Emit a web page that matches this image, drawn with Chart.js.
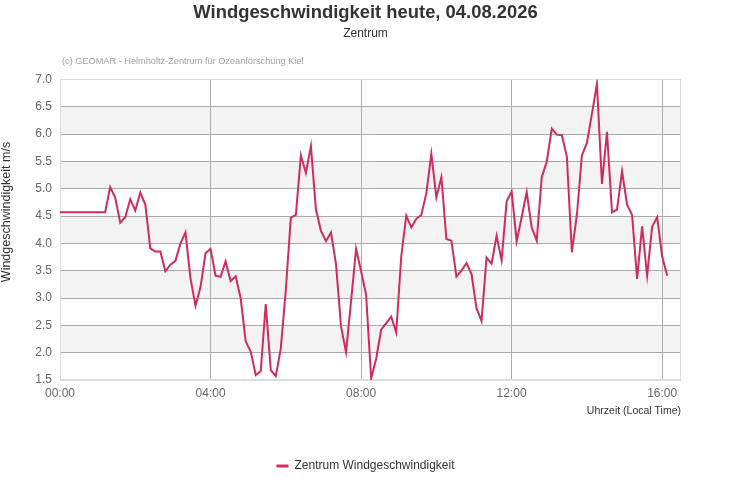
<!DOCTYPE html>
<html>
<head>
<meta charset="utf-8">
<script src="https://cdn.jsdelivr.net/npm/chart.js@4"></script>
<style>
  html, body { margin: 0; padding: 0; background: #fff; }
  #wrap { width: 731px; height: 500px; }
</style>
</head>
<body>
<div id="wrap"><canvas id="chartWind"></canvas></div>
<script>
/* ── Data ── */

const TITLE = 'Windgeschwindigkeit heute, 04.08.2026';
const SUBTITLE = 'Zentrum';
const CREDIT = '(c) GEOMAR - Helmholtz-Zentrum für Ozeanforschung Kiel';
const SERIES_NAME = 'Zentrum Windgeschwindigkeit';
const Y_TITLE = 'Windgeschwindigkeit m/s';
const X_TITLE = 'Uhrzeit (Local Time)';

// one reading every 8 minutes, starting at 00:00
const STEP_MIN = 8;
const WIND = [
  4.57, 4.57, 4.57, 4.57, 4.57, 4.57, 4.57, 4.57, 4.57, 4.57,
  5.03, 4.84, 4.38, 4.48, 4.81, 4.60, 4.93, 4.71, 3.91, 3.85,
  3.85, 3.49, 3.61, 3.68, 4.00, 4.20, 3.36, 2.86, 3.20, 3.82,
  3.90, 3.41, 3.39, 3.67, 3.31, 3.40, 3.00, 2.21, 2.02, 1.59,
  1.66, 2.89, 1.68, 1.57, 2.08, 3.15, 4.47, 4.52, 5.61, 5.29,
  5.78, 4.62, 4.23, 4.04, 4.20, 3.62, 2.48, 2.01, 2.94, 3.90,
  3.49, 3.06, 1.53, 1.89, 2.42, 2.54, 2.66, 2.37, 3.76, 4.51,
  4.29, 4.45, 4.52, 4.92, 5.64, 4.84, 5.21, 4.08, 4.05, 3.39,
  3.50, 3.64, 3.44, 2.81, 2.58, 3.74, 3.63, 4.14, 3.69, 4.77,
  4.95, 4.04, 4.48, 4.94, 4.29, 4.05, 5.21, 5.50, 6.10, 5.99,
  5.98, 5.59, 3.84, 4.52, 5.61, 5.84, 6.37, 6.92, 5.09, 6.04,
  4.57, 4.62, 5.32, 4.71, 4.52, 3.35, 4.31, 3.41, 4.31, 4.48,
  3.76, 3.41
];

const Y_MIN = 1.5, Y_MAX = 7.0, Y_STEP = 0.5;
const X_MIN = 0, X_MAX = 990;                 // minutes
const X_TICKS = [0, 240, 480, 720, 960];      // 00:00 .. 16:00

const LINE_COLOR = '#d02b5b';
const GRID_COLOR = '#aaaaaa';
const EDGE_COLOR = '#dcdcdc';
const BAND_COLOR = '#f3f3f3';
const FONT = '"Liberation Sans", Arial, sans-serif';

/* ── Helpers ── */

const pad2 = n => String(n).padStart(2, '0');
const fmtTime = m => pad2(Math.floor(m / 60)) + ':' + pad2(m % 60);

const plotDecor = {
  id: 'plotDecor',
  beforeDraw(chart) {
    const { ctx, chartArea: a, scales: { y } } = chart;
    ctx.save();
    ctx.fillStyle = BAND_COLOR;
    // alternating bands: every second interval starting below the top
    for (let v = Y_MAX - Y_STEP; v > Y_MIN; v -= 2 * Y_STEP) {
      const top = y.getPixelForValue(v);
      const bot = y.getPixelForValue(v - Y_STEP);
      ctx.fillRect(a.left, top, a.right - a.left, bot - top);
    }
    ctx.restore();
  },
  beforeDatasetsDraw(chart) {
    const { ctx, chartArea: a } = chart;
    ctx.save();
    ctx.strokeStyle = EDGE_COLOR;
    ctx.lineWidth = 1;
    ctx.strokeRect(Math.round(a.left) + 0.5, Math.round(a.top) + 0.5,
      Math.round(a.right - a.left) - 1, Math.round(a.bottom - a.top) - 1);
    ctx.restore();
  },
  afterDraw(chart) {
    const { ctx } = chart;
    ctx.save();
    ctx.font = '9.2px ' + FONT;
    ctx.fillStyle = '#a0a0a0';
    ctx.textBaseline = 'middle';
    ctx.fillText(CREDIT, 62, 61);

    // y axis title
    ctx.translate(7, 212);
    ctx.rotate(-Math.PI / 2);
    ctx.font = '12.5px ' + FONT;
    ctx.fillStyle = '#333333';
    ctx.textAlign = 'center';
    ctx.fillText(Y_TITLE, 0, 0);
    ctx.restore();
  }
};

Chart.defaults.font.family = FONT;
Chart.defaults.animation = false;

new Chart(document.getElementById('chartWind'), {
  type: 'line',
  data: {
    datasets: [{
      label: SERIES_NAME,
      data: WIND.map((v, i) => ({ x: i * STEP_MIN, y: v })),
      borderColor: LINE_COLOR,
      backgroundColor: LINE_COLOR,
      borderWidth: 2,
      pointRadius: 0,
      tension: 0,
      fill: false
    }]
  },
  options: {
    responsive: true,
    maintainAspectRatio: false,
    layout: { padding: { left: 0, right: 0, top: 0, bottom: 18 } },
    plugins: {
      title: {
        display: true,
        text: TITLE,
        color: '#333333',
        font: { size: 18.4, weight: 'bold' },
        padding: { top: 2, bottom: 0 }
      },
      subtitle: {
        display: true,
        text: SUBTITLE,
        color: '#333333',
        font: { size: 12 },
        padding: { top: 2, bottom: 39 }
      },
      legend: {
        display: true,
        position: 'bottom',
        labels: {
          color: '#333333',
          font: { size: 12 },
          boxWidth: 12,
          boxHeight: 3,
          padding: 10,
          generateLabels: chart =>
            Chart.defaults.plugins.legend.labels.generateLabels(chart)
              .map(l => ({ ...l, lineWidth: 0 }))
        }
      },
      tooltip: { enabled: false }
    },
    scales: {
      x: {
        type: 'linear',
        min: X_MIN,
        max: X_MAX,
        afterFit: s => { s.height = 70; },
        afterBuildTicks: s => { s.ticks = X_TICKS.map(v => ({ value: v })); },
        ticks: {
          autoSkip: false,
          color: '#666666',
          font: { size: 12 },
          padding: 6,
          maxRotation: 0,
          callback: v => fmtTime(v)
        },
        grid: {
          drawTicks: false,
          color: ctx => ctx.tick && ctx.tick.value === X_MIN ? EDGE_COLOR : GRID_COLOR
        },
        border: { display: false },
        title: {
          display: true,
          text: X_TITLE,
          align: 'end',
          color: '#333333',
          font: { size: 10.5 },
          padding: { top: 0, bottom: 33 }
        }
      },
      y: {
        min: Y_MIN,
        max: Y_MAX,
        afterFit: s => { s.width = 60; },
        ticks: {
          stepSize: Y_STEP,
          color: '#666666',
          font: { size: 12 },
          padding: 8,
          callback: v => v.toFixed(1)
        },
        grid: {
          drawTicks: false,
          color: ctx => ctx.tick && (ctx.tick.value === Y_MIN || ctx.tick.value === Y_MAX) ? EDGE_COLOR : GRID_COLOR
        },
        border: { display: false }
      },
      // empty right-hand gutter so title and legend stay centred on the page
      yGutter: {
        position: 'right',
        display: true,
        afterFit: s => { s.width = 50; },
        ticks: { display: false },
        grid: { display: false, drawOnChartArea: false },
        border: { display: false }
      }
    }
  },
  plugins: [plotDecor]
});
</script>
</body>
</html>
